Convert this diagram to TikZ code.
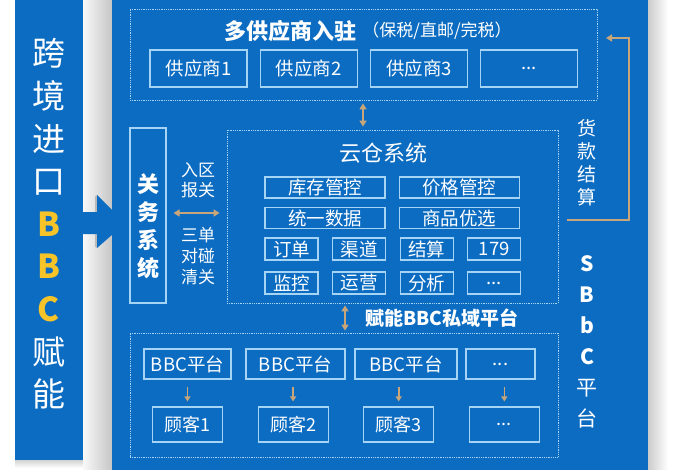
\documentclass[tikz,border=0pt]{standalone}
\usepackage{fontspec}
\setmainfont{Noto Sans CJK SC}
\usepackage{tikz}
\usetikzlibrary{positioning}
\usetikzlibrary{arrows.meta}
\definecolor{panelblue}{RGB}{12,108,194}
\definecolor{boxline}{RGB}{165,212,245}
\definecolor{arrowtan}{RGB}{200,166,122}
\definecolor{bcyellow}{RGB}{246,196,40}
\tikzset{
  cell/.style={draw=boxline,line width=1.1pt,text=white,inner sep=0pt,font=\fontsize{18.5}{18.5}\selectfont},
  supcell/.style={cell,minimum width=97pt,minimum height=37pt},
  widecell/.style={cell,minimum width=120pt,minimum height=21pt},
  smallcell/.style={cell,minimum width=53pt,minimum height=22pt},
  bbccell/.style={cell,minimum height=30pt},
  guestcell/.style={cell,minimum width=70pt,minimum height=35pt,font=\fontsize{18}{18}\selectfont},
  dotarea/.style={draw=boxline,densely dotted,line width=0.8pt,inner sep=0pt},
  whitetext/.style={text=white,align=center,inner sep=0pt},
  tanline/.style={draw=arrowtan,line width=1.8pt},
  tip/.tip={Triangle[width=6pt,length=5pt]},
  bigtip/.tip={Triangle[width=7pt,length=6pt]},
}
\begin{document}
\begin{tikzpicture}[x=1pt,y=-1pt]
    \useasboundingbox (0,0) rectangle (700,470);
    \fill[white] (0,0) rectangle (700,470);
    \shade[left color=gray!5,right color=gray!45] (83,0) rectangle (112,470);
    \shade[left color=gray!40,right color=white] (648,0) rectangle (668,470);
    \shade[top color=gray!35,bottom color=white] (15,460) rectangle (83,468);
    \fill[panelblue] (15,0) rectangle (83,460);
    \fill[panelblue] (112,0) rectangle (648,470);
    \fill[gray!55] (95,196) -- (97,195) -- (97,212) -- (95,212) -- cycle;
    \fill[gray!55] (95,234) -- (97,234) -- (97,248) -- (95,247) -- cycle;
    \fill[panelblue] (83,212) -- (97,212) -- (97,195) -- (113,211) -- (113,234) -- (97,248) -- (97,234) -- (83,234) -- cycle;
    \node[whitetext,font=\fontsize{33}{42.6}\selectfont] (import) at (49,224)
      {跨\\境\\进\\口\\{\color{bcyellow}\bfseries B}\\{\color{bcyellow}\bfseries B}\\{\color{bcyellow}\bfseries C}\\赋\\能};
      % suppliers
      \node[dotarea,minimum width=467pt,minimum height=91pt] (supply) at (363.5,54.5) {};
      \node[whitetext,font=\bfseries\fontsize{22}{22}\selectfont] (suptitle) at (290,31) {多供应商入驻};
      \node[whitetext,font=\fontsize{17}{17}\selectfont,right=6pt of suptitle] (taxmode) {（保税/直邮/完税）};
      \node[supcell] (sup1) at (198.5,68.5) {供应商1};
      \node[supcell,right=12pt of sup1] (sup2) {供应商2};
      \node[supcell,right=12.5pt of sup2] (sup3) {供应商3};
      \node[supcell,right=12pt of sup3] (sup4) {...};
      % customs
      \node[draw=boxline,line width=1.1pt,inner sep=0pt,minimum width=36pt,minimum height=175pt] (customs) at (148,215.5) {};
      \node[whitetext,font=\bfseries\fontsize{22}{28}\selectfont] (customstext) at (148,226) {关\\务\\系\\统};
      \node[whitetext,font=\fontsize{17}{20}\selectfont] (declare) at (198,180) {入区\\报关};
      \node[whitetext,font=\fontsize{17}{21}\selectfont] (clearance) at (198,256) {三单\\对碰\\清关};
      % cloud warehouse
      \node[dotarea,minimum width=331pt,minimum height=173pt] (cloud) at (392.5,216.5) {};
      \node[whitetext,font=\fontsize{22}{22}\selectfont] (cloudtitle) at (383,153) {云仓系统};
      \node[widecell] (stock) at (325,187.5) {库存管控};
      \node[widecell,right=13pt of stock] (price) {价格管控};
      \node[widecell] (data) at (325,218) {统一数据};
      \node[widecell,right=13pt of data] (pick) {商品优选};
      \node[smallcell] (order) at (291.5,249) {订单};
      \node[smallcell,right=13.5pt of order] (channel) {渠道};
      \node[smallcell,right=13.5pt of channel] (settle) {结算};
      \node[smallcell,right=13.5pt of settle] (code) {179};
      \node[smallcell] (monitor) at (291.5,283) {监控};
      \node[smallcell,right=13.5pt of monitor] (operate) {运营};
      \node[smallcell,right=13.5pt of operate] (analyse) {分析};
      \node[smallcell,right=13.5pt of analyse] (more) {...};
      % bbc platforms
      \node[whitetext,font=\bfseries\fontsize{19}{19}\selectfont] (enable) at (442,318) {赋能BBC私域平台};
      \node[dotarea,minimum width=428pt,minimum height=124pt] (platform) at (344,395) {};
      \node[bbccell,minimum width=87pt] (bbc1) at (187.5,364) {BBC平台};
      \node[bbccell,minimum width=99pt] (bbc2) at (295.5,364) {BBC平台};
      \node[bbccell,minimum width=102pt] (bbc3) at (406,364) {BBC平台};
      \node[bbccell,minimum width=69pt] (bbc4) at (500.5,364) {...};
      \node[guestcell] (guest1) at (187.5,424.5) {顾客1};
      \node[guestcell,right=34.5pt of guest1] (guest2) {顾客2};
      \node[guestcell,right=34.5pt of guest2] (guest3) {顾客3};
      \node[guestcell,right=34.5pt of guest3] (guest4) {...};
      % right side
      \node[whitetext,font=\fontsize{19}{23}\selectfont] (payment) at (587,163) {货\\款\\结\\算};
      \node[whitetext,font=\fontsize{21}{31}\selectfont] (sbbc) at (587,342)
        {{\bfseries S}\\{\bfseries B}\\{\bfseries b}\\{\bfseries C}\\平\\台};
      % connectors
      \coordinate (gate1) at (363,0);
      \coordinate (gate2) at (0,213);
      \coordinate (gate3) at (345,0);
      \coordinate (payfrom) at (567,220);
      \coordinate (paycorner) at (629,220);
      \coordinate (payto) at (606,38);
      \draw[tanline,bigtip-bigtip,shorten <=3pt,shorten >=3pt] (supply.south -| gate1) -- (cloud.north -| gate1);
      \draw[tanline,bigtip-bigtip,shorten <=7pt,shorten >=7pt] (customs.east |- gate2) -- (cloud.west |- gate2);
      \draw[tanline,bigtip-bigtip,shorten <=2pt,shorten >=2pt] (cloud.south -| gate3) -- (platform.north -| gate3);
      \draw[tanline,line width=1.6pt,-bigtip] (payfrom) -- (paycorner) |- (payto);
      \draw[tanline,line width=1.6pt,-tip,shorten <=7pt,shorten >=5pt] (bbc1.south -| guest1.north) -- (guest1.north);
      \draw[tanline,line width=1.6pt,-tip,shorten <=7pt,shorten >=5pt] (bbc2.south -| guest2.north) -- (guest2.north);
      \draw[tanline,line width=1.6pt,-tip,shorten <=7pt,shorten >=5pt] (bbc3.south -| guest3.north) -- (guest3.north);
      \draw[tanline,line width=1.6pt,-tip,shorten <=7pt,shorten >=5pt] (bbc4.south -| guest4.north) -- (guest4.north);
  \end{tikzpicture}
\end{document}
